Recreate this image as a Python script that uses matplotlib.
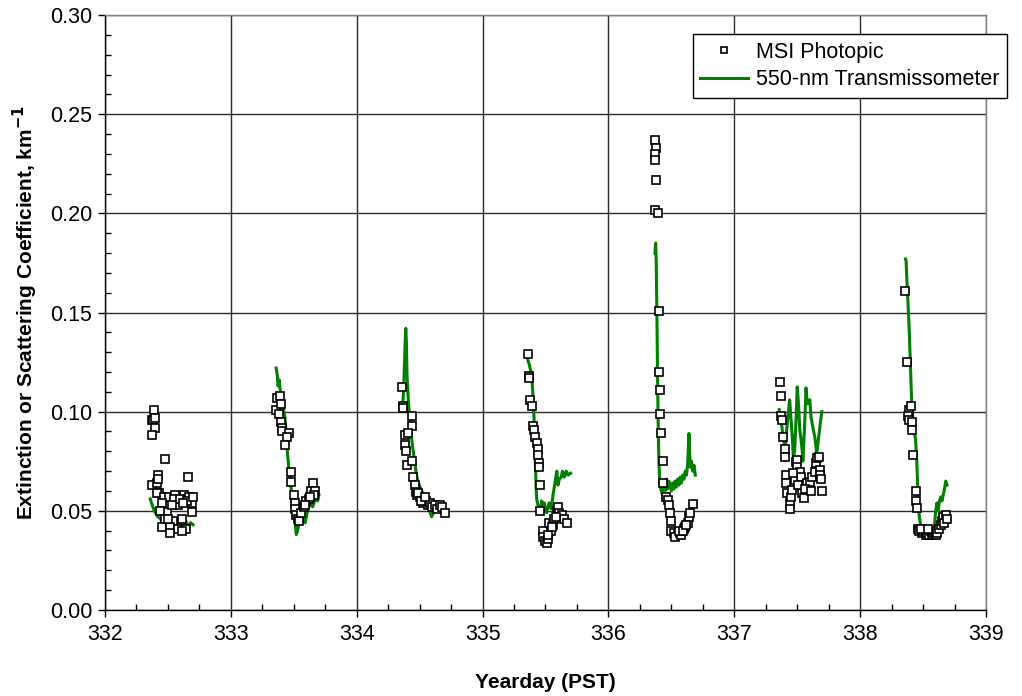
import matplotlib
matplotlib.use('Agg')
import matplotlib.pyplot as plt
import numpy as np
from matplotlib.ticker import MultipleLocator, FormatStrFormatter

# MSI photopic points (yearday, coefficient)
msi_332 = [(332.39, 0.101), (332.37, 0.096), (332.38, 0.096), (332.40, 0.097), (332.40, 0.092), (332.37, 0.088),
           (332.48, 0.076), (332.42, 0.068), (332.66, 0.067), (332.37, 0.063), (332.41, 0.064), (332.43, 0.059),
           (332.41, 0.059), (332.42, 0.066), (332.47, 0.057), (332.51, 0.057), (332.56, 0.058), (332.58, 0.055),
           (332.58, 0.053), (332.63, 0.058), (332.67, 0.057), (332.69, 0.054), (332.45, 0.054), (332.49, 0.0495),
           (332.44, 0.050), (332.69, 0.0495), (332.48, 0.046), (332.54, 0.045), (332.61, 0.046), (332.45, 0.042),
           (332.52, 0.042), (332.58, 0.041), (332.64, 0.041), (332.52, 0.039), (332.61, 0.040), (332.50, 0.046),
           (332.55, 0.056), (332.60, 0.056), (332.65, 0.055), (332.70, 0.057), (332.53, 0.053), (332.62, 0.054)]
msi_333 = [(333.37, 0.107), (333.39, 0.108), (333.36, 0.101), (333.38, 0.099), (333.40, 0.095), (333.41, 0.092),
           (333.41, 0.090), (333.46, 0.089), (333.45, 0.087), (333.43, 0.083), (333.40, 0.104),
           (333.48, 0.0696), (333.48, 0.0645), (333.50, 0.058), (333.51, 0.054), (333.51, 0.051), (333.52, 0.048),
           (333.53, 0.046), (333.54, 0.045), (333.56, 0.049), (333.58, 0.052), (333.60, 0.055), (333.62, 0.056),
           (333.64, 0.060), (333.65, 0.064), (333.67, 0.060), (333.66, 0.058), (333.63, 0.057), (333.59, 0.053)]
msi_334 = [(334.36, 0.1125), (334.37, 0.103), (334.37, 0.102), (334.44, 0.098), (334.44, 0.093), (334.38, 0.088),
           (334.41, 0.089), (334.38, 0.083), (334.39, 0.080), (334.40, 0.073), (334.44, 0.075), (334.45, 0.067),
           (334.46, 0.063), (334.47, 0.0595), (334.48, 0.058), (334.50, 0.057), (334.52, 0.056), (334.53, 0.054),
           (334.55, 0.055), (334.57, 0.053), (334.58, 0.054), (334.60, 0.052), (334.62, 0.053), (334.64, 0.051),
           (334.66, 0.053), (334.68, 0.052), (334.70, 0.049), (334.49, 0.059), (334.51, 0.055), (334.54, 0.057)]
msi_335 = [(335.36, 0.129), (335.37, 0.118), (335.37, 0.117), (335.38, 0.106), (335.39, 0.103), (335.40, 0.093),
           (335.41, 0.091), (335.42, 0.087), (335.43, 0.084), (335.44, 0.081), (335.44, 0.078), (335.45, 0.074),
           (335.45, 0.072), (335.46, 0.063), (335.46, 0.050), (335.48, 0.040), (335.48, 0.037), (335.50, 0.035),
           (335.51, 0.034), (335.52, 0.036), (335.53, 0.044), (335.54, 0.040), (335.56, 0.043), (335.57, 0.046),
           (335.59, 0.050), (335.60, 0.052), (335.61, 0.049), (335.63, 0.048), (335.65, 0.046), (335.67, 0.044),
           (335.52, 0.038), (335.55, 0.042), (335.58, 0.047)]
msi_336 = [(336.37, 0.237), (336.38, 0.233), (336.37, 0.230), (336.37, 0.227), (336.38, 0.217), (336.37, 0.2015),
           (336.39, 0.200), (336.40, 0.151), (336.40, 0.120), (336.41, 0.111), (336.41, 0.099), (336.42, 0.089),
           (336.43, 0.075), (336.43, 0.064), (336.46, 0.057), (336.47, 0.0555), (336.48, 0.053), (336.49, 0.049),
           (336.50, 0.045), (336.50, 0.040), (336.52, 0.039), (336.55, 0.038), (336.53, 0.037), (336.57, 0.039),
           (336.58, 0.038), (336.60, 0.041), (336.61, 0.042), (336.63, 0.044), (336.64, 0.047), (336.65, 0.049),
           (336.67, 0.0535), (336.56, 0.040), (336.59, 0.040), (336.62, 0.043)]
msi_337 = [(337.36, 0.115), (337.37, 0.108), (337.37, 0.098), (337.38, 0.096), (337.39, 0.087), (337.40, 0.081),
           (337.40, 0.077), (337.41, 0.068), (337.41, 0.064), (337.42, 0.059), (337.44, 0.054), (337.44, 0.051),
           (337.45, 0.057), (337.46, 0.0605), (337.48, 0.0655), (337.49, 0.0745), (337.50, 0.0755), (337.50, 0.072),
           (337.52, 0.0695), (337.53, 0.067), (337.54, 0.059), (337.55, 0.0565), (337.57, 0.063), (337.58, 0.064),
           (337.60, 0.0645), (337.62, 0.067), (337.64, 0.0695), (337.65, 0.074), (337.66, 0.0765), (337.67, 0.077),
           (337.68, 0.0705), (337.68, 0.068), (337.69, 0.066), (337.70, 0.060), (337.47, 0.069), (337.51, 0.063),
           (337.56, 0.061), (337.61, 0.060)]
msi_338 = [(338.36, 0.161), (338.37, 0.125), (338.39, 0.101), (338.40, 0.103), (338.38, 0.098), (338.39, 0.096),
           (338.41, 0.095), (338.41, 0.091), (338.42, 0.078), (338.44, 0.060), (338.44, 0.055), (338.45, 0.0515),
           (338.46, 0.041), (338.47, 0.040), (338.49, 0.039), (338.50, 0.040), (338.52, 0.038), (338.53, 0.039),
           (338.55, 0.038), (338.56, 0.040), (338.57, 0.038), (338.58, 0.039), (338.59, 0.040), (338.60, 0.038),
           (338.61, 0.039), (338.63, 0.041), (338.64, 0.043), (338.65, 0.045), (338.66, 0.047), (338.67, 0.044),
           (338.68, 0.048), (338.69, 0.046), (338.48, 0.041), (338.54, 0.041)]

# 550-nm transmissometer, one trace per day
trans_332 = [(332.36, 0.056), (332.38, 0.052), (332.40, 0.049), (332.42, 0.047), (332.44, 0.046), (332.46, 0.044),
             (332.48, 0.043), (332.50, 0.045), (332.52, 0.042), (332.54, 0.041), (332.56, 0.044), (332.58, 0.040),
             (332.60, 0.043), (332.62, 0.041), (332.64, 0.045), (332.66, 0.042), (332.68, 0.044), (332.70, 0.043)]
trans_333 = [(333.36, 0.122), (333.37, 0.118), (333.375, 0.113), (333.385, 0.116), (333.39, 0.112), (333.41, 0.104),
             (333.43, 0.097), (333.44, 0.088), (333.45, 0.079), (333.46, 0.072), (333.47, 0.066), (333.48, 0.061),
             (333.49, 0.055), (333.50, 0.050), (333.51, 0.045), (333.52, 0.038), (333.53, 0.040), (333.54, 0.043),
             (333.55, 0.046), (333.56, 0.049), (333.57, 0.050), (333.58, 0.047), (333.59, 0.044), (333.60, 0.047),
             (333.61, 0.050), (333.63, 0.054), (333.65, 0.052), (333.67, 0.056), (333.69, 0.055), (333.70, 0.058)]
trans_334 = [(334.365, 0.101), (334.375, 0.115), (334.385, 0.135), (334.39, 0.142), (334.395, 0.135), (334.40, 0.118),
             (334.41, 0.106), (334.42, 0.098), (334.43, 0.090), (334.445, 0.082), (334.46, 0.075), (334.475, 0.068),
             (334.49, 0.064), (334.51, 0.061), (334.53, 0.058), (334.555, 0.055), (334.57, 0.052), (334.58, 0.050),
             (334.595, 0.047), (334.61, 0.049), (334.63, 0.051), (334.65, 0.053), (334.67, 0.052), (334.69, 0.054),
             (334.70, 0.052)]
trans_335 = [(335.355, 0.127), (335.37, 0.124), (335.385, 0.120), (335.395, 0.114), (335.405, 0.103), (335.41, 0.095),
             (335.415, 0.085), (335.42, 0.074), (335.425, 0.063), (335.43, 0.056), (335.44, 0.053), (335.45, 0.052),
             (335.46, 0.050), (335.47, 0.055), (335.48, 0.052), (335.49, 0.054), (335.50, 0.050), (335.51, 0.049),
             (335.52, 0.052), (335.53, 0.054), (335.545, 0.051), (335.56, 0.058), (335.57, 0.062), (335.58, 0.066),
             (335.59, 0.070), (335.60, 0.063), (335.61, 0.066), (335.625, 0.067), (335.635, 0.070), (335.65, 0.067),
             (335.665, 0.070), (335.68, 0.068), (335.70, 0.069)]
trans_336 = [(336.37, 0.180), (336.375, 0.185), (336.38, 0.175), (336.385, 0.150), (336.39, 0.120), (336.395, 0.095),
             (336.40, 0.078), (336.405, 0.068), (336.41, 0.063), (336.42, 0.060), (336.43, 0.058), (336.44, 0.062),
             (336.45, 0.060), (336.46, 0.066), (336.47, 0.061), (336.48, 0.065), (336.49, 0.063), (336.50, 0.060),
             (336.51, 0.064), (336.52, 0.061), (336.53, 0.065), (336.54, 0.062), (336.55, 0.066), (336.56, 0.063),
             (336.57, 0.067), (336.58, 0.064), (336.59, 0.068), (336.60, 0.066), (336.61, 0.070), (336.62, 0.068),
             (336.63, 0.074), (336.64, 0.089), (336.645, 0.080), (336.65, 0.072), (336.66, 0.075), (336.67, 0.070),
             (336.68, 0.073), (336.69, 0.068)]
trans_337 = [(337.357, 0.101), (337.37, 0.097), (337.39, 0.086), (337.405, 0.082), (337.415, 0.090), (337.43, 0.100),
             (337.44, 0.106), (337.45, 0.097), (337.46, 0.088), (337.47, 0.076), (337.48, 0.081), (337.49, 0.095),
             (337.50, 0.1125), (337.51, 0.104), (337.52, 0.091), (337.53, 0.086), (337.54, 0.080), (337.545, 0.075),
             (337.56, 0.095), (337.57, 0.112), (337.58, 0.104), (337.60, 0.106), (337.61, 0.097), (337.625, 0.092),
             (337.64, 0.087), (337.655, 0.079), (337.67, 0.087), (337.685, 0.095), (337.695, 0.100)]
trans_338 = [(338.36, 0.177), (338.365, 0.176), (338.37, 0.168), (338.38, 0.155), (338.39, 0.141), (338.40, 0.122),
             (338.41, 0.104), (338.42, 0.095), (338.43, 0.090), (338.44, 0.086), (338.45, 0.075), (338.455, 0.066),
             (338.46, 0.055), (338.47, 0.047), (338.48, 0.043), (338.50, 0.041), (338.52, 0.040), (338.54, 0.041),
             (338.56, 0.040), (338.58, 0.040), (338.59, 0.042), (338.60, 0.050), (338.61, 0.054), (338.62, 0.050),
             (338.63, 0.055), (338.64, 0.057), (338.65, 0.055), (338.66, 0.058), (338.67, 0.061), (338.68, 0.065),
             (338.69, 0.063)]

msi_days = [msi_332, msi_333, msi_334, msi_335, msi_336, msi_337, msi_338]
trans_days = [trans_332, trans_333, trans_334, trans_335, trans_336, trans_337, trans_338]

plt.rcParams['font.family'] = ['Liberation Sans', 'DejaVu Sans']

fig = plt.figure(figsize=(10.22, 6.96), dpi=100)
ax = fig.add_axes([0.1027, 0.1236, 0.8621, 0.8548])

green = '#008000'
for i in range(0, len(trans_days)):
    t = np.array(trans_days[i])
    ax.plot(t[:, 0], t[:, 1], color=green, lw=2.2, zorder=3,
            label='550-nm Transmissometer' if i == 0 else None)

for i in range(0, len(msi_days)):
    m = np.array(msi_days[i])
    ax.plot(m[:, 0], m[:, 1], ls='none', marker='s', ms=5.4, mfc='white', mec='black', mew=1.2,
            zorder=4, label='MSI Photopic' if i == 0 else None)

ax.set_xlim(332, 339)
ax.set_ylim(0, 0.30)
ax.xaxis.set_major_locator(MultipleLocator(1))
ax.xaxis.set_minor_locator(MultipleLocator(0.25))
ax.yaxis.set_major_locator(MultipleLocator(0.05))
ax.yaxis.set_minor_locator(MultipleLocator(0.01))
ax.yaxis.set_major_formatter(FormatStrFormatter('%.2f'))

ax.tick_params(which='major', direction='out', length=5, width=1, labelsize=15.5, color='black')
ax.tick_params(which='minor', direction='in', length=4, width=1, color='black')
ax.tick_params(axis='x', which='major', pad=5)
ax.tick_params(axis='y', which='major', pad=4)

ax.grid(True, which='major', color='#2b2b2b', lw=1)
ax.set_axisbelow(True)
for s in ax.spines.values():
    s.set_linewidth(1)
    s.set_color('black')
ax.spines['top'].set_color('#808080')
ax.spines['right'].set_color('#808080')

ax.set_xlabel('Yearday (PST)', fontsize=15, fontweight='bold', labelpad=20)
ax.set_ylabel('Extinction or Scattering Coefficient, km$^{\\mathbf{-1}}$', fontsize=15,
              fontweight='bold', labelpad=7)

handles, labels = ax.get_legend_handles_labels()
order = [labels.index('MSI Photopic'), labels.index('550-nm Transmissometer')]
leg = ax.legend([handles[k] for k in order], [labels[k] for k in order],
                loc='upper left', bbox_to_anchor=(0.678, 0.951), bbox_transform=fig.transFigure,
                fontsize=15.5, fancybox=False, framealpha=1, edgecolor='black',
                borderaxespad=0, handlelength=2.2, handletextpad=0.4, borderpad=0.35,
                labelspacing=0.3, markerscale=0.75)
leg.get_frame().set_linewidth(1)

fig.savefig('out.png', dpi=100)
